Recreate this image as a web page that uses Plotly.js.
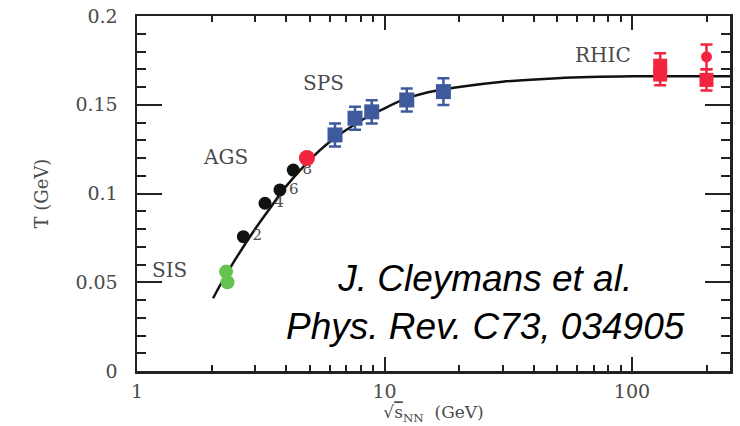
<!DOCTYPE html>
<html>
<head>
<meta charset="utf-8">
<script src="https://cdn.plot.ly/plotly-3.0.1.min.js"></script>
<style>
  html, body { margin: 0; padding: 0; background: #fff; }
  #chart { width: 740px; height: 426px; }
</style>
</head>
<body>
<div id="chart"></div>
<script>
// ---- data ----
// fit curve
var curveX = [2.03, 2.2, 2.5, 3, 3.5, 4, 5, 6, 8, 10, 12, 15, 20, 30, 50, 100, 250];
var curveT = [0.041, 0.050, 0.063, 0.080, 0.093, 0.104, 0.119, 0.129, 0.141, 0.148, 0.153, 0.157, 0.160, 0.163, 0.165, 0.166, 0.166];

// SIS (green)
var sisX = [2.29, 2.32];
var sisT = [0.056, 0.050];

// AGS (black, 2/4/6/8 A GeV)
var agsX = [2.69, 3.29, 3.78, 4.28];
var agsT = [0.0757, 0.0945, 0.102, 0.1132];
var agsLabels = ['2', '4', '6', '8'];

// AGS top energy (red)
var agsRedX = [4.86];
var agsRedT = [0.120];

// SPS (blue)
var spsX = [6.31, 7.6, 8.88, 12.3, 17.3];
var spsT = [0.133, 0.1424, 0.146, 0.1527, 0.1574];
var spsErr = [0.0065, 0.0065, 0.0065, 0.0065, 0.0075];

// RHIC (red squares)
var rhicX = [130, 130, 200];
var rhicT = [0.172, 0.167, 0.164];
var rhicErr = [0.007, 0.006, 0.006];
// RHIC (red small marker)
var rhic2X = [200];
var rhic2T = [0.177];
var rhic2Err = [0.007];

// axis ticks
var yTickVals = [0, 0.05, 0.1, 0.15, 0.2];
var yTickText = ['0', '0.05', '0.1', '0.15', '0.2'];
var yMinorVals = [0.01, 0.02, 0.03, 0.04, 0.06, 0.07, 0.08, 0.09, 0.11, 0.12, 0.13, 0.14, 0.16, 0.17, 0.18, 0.19];
var xTickVals = [1, 10, 100];
var xTickText = ['1', '10', '100'];
var xMinorVals = [2, 3, 4, 5, 6, 7, 8, 9, 20, 30, 40, 50, 60, 70, 80, 90, 200];

// ---- colours / styles ----
var BLUE = '#3f5a9c';
var RED = '#f2243f';
var GREEN = '#66c24e';
var GRAY = '#4a4a4a';
var SERIF = '"DejaVu Serif", "Liberation Serif", serif';

var traces = [
  {
    x: curveX, y: curveT, mode: 'lines', type: 'scatter',
    line: { color: '#111', width: 2.5, shape: 'spline', smoothing: 1.0 },
    hoverinfo: 'skip', showlegend: false
  },
  {
    x: sisX, y: sisT, mode: 'markers', type: 'scatter',
    marker: { color: GREEN, size: 14, symbol: 'circle' }, showlegend: false
  },
  {
    x: agsX, y: agsT, mode: 'markers+text', type: 'scatter',
    text: agsLabels, textposition: 'middle right',
    textfont: { family: SERIF, size: 15, color: GRAY },
    marker: { color: '#111', size: 13, symbol: 'circle' }, showlegend: false
  },
  {
    x: agsRedX, y: agsRedT, mode: 'markers', type: 'scatter',
    marker: { color: RED, size: 16, symbol: 'circle' }, showlegend: false
  },
  {
    x: spsX, y: spsT, mode: 'markers', type: 'scatter',
    error_y: { type: 'data', array: spsErr, visible: true, color: BLUE, thickness: 2.5, width: 6 },
    marker: { color: BLUE, size: 15, symbol: 'square' }, showlegend: false
  },
  {
    x: rhicX, y: rhicT, mode: 'markers', type: 'scatter',
    error_y: { type: 'data', array: rhicErr, visible: true, color: RED, thickness: 2.5, width: 6 },
    marker: { color: RED, size: 14, symbol: 'square' }, showlegend: false
  },
  {
    x: rhic2X, y: rhic2T, mode: 'markers', type: 'scatter',
    error_y: { type: 'data', array: rhic2Err, visible: true, color: RED, thickness: 2.5, width: 6 },
    marker: { color: RED, size: 11, symbol: 'circle' }, showlegend: false
  }
];

function axisBase() {
  return {
    showline: true, linecolor: '#222', linewidth: 2.5, mirror: 'allticks',
    ticks: 'inside', tickcolor: '#222', tickwidth: 2,
    showgrid: false, zeroline: false,
    tickfont: { family: SERIF, size: 19, color: GRAY }
  };
}

var layout = {
  width: 740, height: 426,
  margin: { l: 137, r: 10, t: 16, b: 55 },
  showlegend: false,
  xaxis: Object.assign(axisBase(), {
    type: 'log', range: [0, 2.396],
    tickmode: 'array', tickvals: xTickVals, ticktext: xTickText,
    ticklen: 14, ticklabelstandoff: 2,
    minor: { tickmode: 'array', tickvals: xMinorVals, ticks: 'inside', ticklen: 6, tickwidth: 2, tickcolor: '#222' },
    title: { text: '√<span style="text-decoration:overline">s</span><sub>NN</sub>  (GeV)', font: { family: SERIF, size: 17, color: GRAY }, standoff: 2 }
  }),
  yaxis: Object.assign(axisBase(), {
    range: [0, 0.2],
    tickmode: 'array', tickvals: yTickVals, ticktext: yTickText,
    ticklen: 25, ticklabelstandoff: 13,
    minor: { tickmode: 'array', tickvals: yMinorVals, ticks: 'inside', ticklen: 9, tickwidth: 2, tickcolor: '#222' },
    title: { text: 'T (GeV)', font: { family: SERIF, size: 18, color: GRAY }, standoff: 22 }
  }),
  annotations: [
    { text: 'SIS', xref: 'paper', yref: 'paper', x: 0.0556, y: 0.2845, xanchor: 'center', yanchor: 'middle', showarrow: false, font: { family: SERIF, size: 20, color: GRAY } },
    { text: 'AGS', xref: 'paper', yref: 'paper', x: 0.1484, y: 0.6028, xanchor: 'center', yanchor: 'middle', showarrow: false, font: { family: SERIF, size: 20, color: GRAY } },
    { text: 'SPS', xref: 'paper', yref: 'paper', x: 0.3153, y: 0.8113, xanchor: 'center', yanchor: 'middle', showarrow: false, font: { family: SERIF, size: 20, color: GRAY } },
    { text: 'RHIC', xref: 'paper', yref: 'paper', x: 0.7858, y: 0.8901, xanchor: 'center', yanchor: 'middle', showarrow: false, font: { family: SERIF, size: 20, color: GRAY } },
    { text: 'J. Cleymans et al.<br>Phys. Rev. C73, 034905', xref: 'paper', yref: 'paper', x: 0.5885, y: 0.194,
      xanchor: 'center', yanchor: 'middle', showarrow: false, align: 'center',
      font: { family: '"Liberation Sans", Arial, sans-serif', size: 37, color: '#000', style: 'italic' } }
  ]
};

Plotly.newPlot('chart', traces, layout, { staticPlot: true }).then(function () {
  // keep the library-drawn tick marks on the top layer so nothing hides them
  var svgs = document.querySelectorAll('#chart svg.main-svg');
  if (!svgs.length) return;
  var topSvg = svgs[svgs.length - 1];
  var g = document.createElementNS('http://www.w3.org/2000/svg', 'g');
  g.setAttribute('class', 'tick-overlay');
  document.querySelectorAll('#chart path.xtick, #chart path.ytick').forEach(function (p) {
    g.appendChild(p.cloneNode(true));
  });
  topSvg.appendChild(g);
});
</script>
</body>
</html>
